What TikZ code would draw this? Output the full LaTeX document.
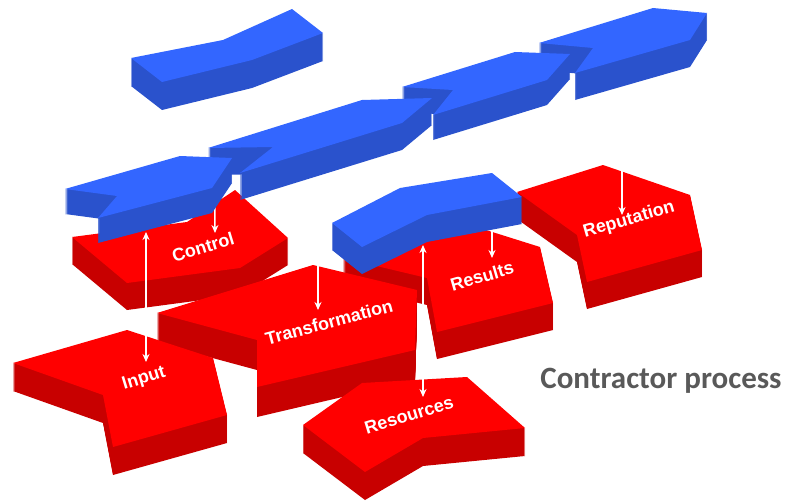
\documentclass[tikz,border=0pt]{standalone}
\usepackage{fontspec}
\setmainfont{Liberation Sans}
\newfontfamily\capfont{Carlito}
\usetikzlibrary{arrows.meta}
\definecolor{bluetop}{HTML}{3366FF}
\definecolor{blueside}{HTML}{2A52CC}
\definecolor{redtop}{HTML}{FF0000}
\definecolor{redside}{HTML}{C80000}
\definecolor{capgray}{HTML}{595959}
\newcommand{\slab}[4]{%
  \foreach \s in {1,...,#3} \fill[#2,shift={(0,\s)}] #4 -- cycle;
  \fill[#1] #4 -- cycle;}
\begin{document}
\begin{tikzpicture}[x=1pt,y=-1pt,
  boxtext/.style={text=white,font=\bfseries\fontsize{18}{18}\selectfont},
  flow/.style={white,line width=1.5pt,-{Stealth[length=8pt,width=7pt]}},
  flowboth/.style={white,line width=1.5pt,{Stealth[length=8pt,width=7pt]}-{Stealth[length=8pt,width=7pt]}}]
\useasboundingbox (0,0) rectangle (789,503);
\slab{redtop}{redside}{27}{(517,192) -- (603,165) -- (690,195) -- (702,250) -- (587,282) -- (577,235)}
\slab{redtop}{redside}{27}{(343,258) -- (470,225) -- (540,247) -- (553,303) -- (437,332) -- (427,278)}
\slab{redtop}{redside}{27}{(72,237) -- (187,222) -- (235,190) -- (288,238) -- (240,268) -- (127,283)}
\slab{redtop}{redside}{30}{(157,313) -- (313,265) -- (417,290) -- (415,350) -- (257,387) -- (257,340)}
\slab{redtop}{redside}{28}{(13,363) -- (127,330) -- (213,358) -- (227,415) -- (113,447) -- (103,395)}
\slab{redtop}{redside}{28}{(303,425) -- (362,383) -- (467,377) -- (525,428) -- (423,438) -- (365,472)}
\node[boxtext,rotate=17] (control) at (203,247) {Control};
\node[boxtext,rotate=15] (transformation) at (329,322) {Transformation};
\node[boxtext,rotate=17] (input) at (144,379) {Input};
\node[boxtext,rotate=17] (resources) at (409,415) {Resources};
\node[boxtext,rotate=16] (results) at (482,276) {Results};
\node[boxtext,rotate=16] (reputation) at (629,220) {Reputation};
\node[text=capgray,font=\capfont\bfseries\fontsize{31}{31}\selectfont] (process) at (661,381) {Contractor process};
\coordinate (barout) at (214,97);
\coordinate (ctrlin) at (215,233);
\coordinate (aout) at (146,232);
\coordinate (inin) at (146,362);
\coordinate (bout) at (318,176);
\coordinate (transin) at (318,310);
\coordinate (cout) at (492,122);
\coordinate (resin) at (492,258);
\coordinate (eout) at (423,245);
\coordinate (srcin) at (423,397);
\coordinate (dout) at (622,88);
\coordinate (repin) at (622,215);
\draw[flow] (barout) -- (ctrlin);
\draw[flowboth] (aout) -- (inin);
\draw[flow] (bout) -- (transin);
\draw[flow] (cout) -- (resin);
\draw[flowboth] (eout) -- (srcin);
\draw[flow] (dout) -- (repin);
\slab{bluetop}{blueside}{28}{(131,58) -- (223,40) -- (292,9) -- (323,33) -- (252,60) -- (162,82)}
\slab{bluetop}{blueside}{27}{(539,43) -- (653,8) -- (707,13) -- (690,40) -- (575,73) -- (593,48)}
\slab{bluetop}{blueside}{25}{(402,87) -- (515,52) -- (570,54) -- (547,80) -- (433,115) -- (453,90)}
\slab{bluetop}{blueside}{27}{(208,148) -- (362,100) -- (432,98) -- (402,123) -- (240,173) -- (273,147)}
\slab{bluetop}{blueside}{25}{(65,189) -- (180,156) -- (232,158) -- (212,188) -- (98,218) -- (117,196)}
\slab{bluetop}{blueside}{27}{(332,223) -- (400,188) -- (492,173) -- (522,197) -- (427,215) -- (362,247)}
\end{tikzpicture}
\end{document}
